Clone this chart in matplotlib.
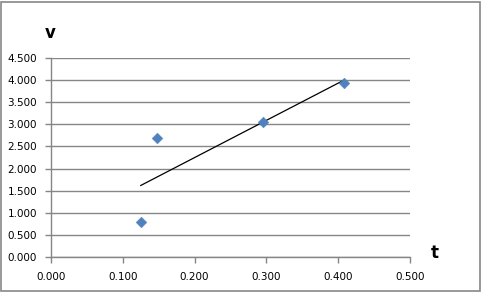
import numpy as np
import matplotlib
matplotlib.use("Agg")
import matplotlib.pyplot as plt
from matplotlib.patches import Rectangle

# data
t = [0.125, 0.148, 0.295, 0.4085]
v = [0.80, 2.70, 3.05, 3.93]
x_ticks = [0.0, 0.1, 0.2, 0.3, 0.4, 0.5]
y_ticks = [0.0, 0.5, 1.0, 1.5, 2.0, 2.5, 3.0, 3.5, 4.0, 4.5]

plt.rcParams["font.family"] = ["DejaVu Sans"]

W, H = 483, 292
fig = plt.figure(figsize=(W / 100, H / 100), dpi=100)
fig.patch.set_facecolor("white")

# chart area border
fig.patches.append(Rectangle((0.5 / W, 1.5 / H), 479.5 / W, 288.5 / H,
                             transform=fig.transFigure, fill=False,
                             edgecolor="#888888", linewidth=1.2))

ax = fig.add_axes([51 / W, (H - 257) / H, 359 / W, 199 / H])
grid_col = "#868686"

# linear trendline
k, b = np.polyfit(t, v, 1)
tt = np.array([min(t), max(t)])
ax.plot(tt, k * tt + b, color="black", linewidth=0.9, zorder=3)

ax.scatter(t, v, marker="D", s=30, color="#4F81BD", edgecolors="#4F81BD",
           linewidths=0.3, zorder=4)

ax.set_xlim(0, 0.5)
ax.set_ylim(0, 4.5)
ax.set_xticks(x_ticks)
ax.set_yticks(y_ticks)
ax.set_xticklabels([f"{x:.3f}" for x in x_ticks])
ax.set_yticklabels([f"{y:.3f}" for y in y_ticks])
ax.yaxis.grid(True, color=grid_col, linewidth=1.0)
ax.set_axisbelow(True)

for s in ["top", "right"]:
    ax.spines[s].set_visible(False)
for s in ["left", "bottom"]:
    ax.spines[s].set_color(grid_col)
    ax.spines[s].set_linewidth(1.0)

ax.tick_params(axis="both", colors=grid_col, labelcolor="black",
               labelsize=7.5, length=4, width=1.0, direction="out")
ax.tick_params(axis="y", pad=6)
ax.tick_params(axis="x", pad=7)

fig.text(50 / W, 1 - 33 / H, "v", fontsize=12, fontweight="bold",
         ha="center", va="center")
fig.text(435 / W, 1 - 253 / H, "t", fontsize=12, fontweight="bold",
         ha="center", va="center")

fig.savefig("out.png", dpi=100, facecolor="white")
